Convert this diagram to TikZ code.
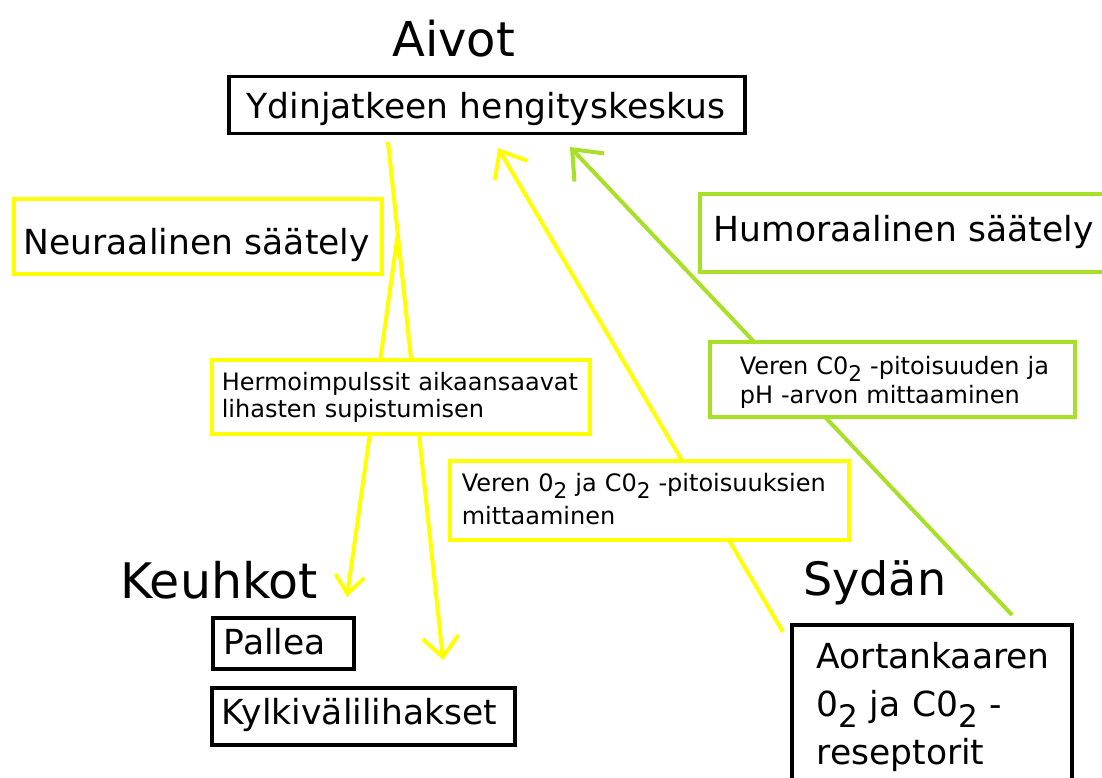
\documentclass[tikz,border=0pt]{standalone}
\usepackage{fontspec}
\setmainfont{DejaVu Sans}
\usetikzlibrary{arrows.meta,backgrounds}
\definecolor{ylw}{RGB}{255,255,0}
\definecolor{grn}{RGB}{168,224,40}
\newcommand{\subtwo}{\raisebox{-0.3em}{\scalebox{0.9}{2}}}
\newcommand{\bigfont}{\fontsize{34.5}{48}\selectfont}
\begin{document}
\begin{tikzpicture}[x=1pt,y=-1pt,
  panel/.style={rectangle, draw, fill=white, line width=3.5pt, inner ysep=0pt, anchor=north west, align=left},
  title/.style={anchor=base west, inner sep=0pt},
  yline/.style={draw=ylw, line width=4pt},
  gline/.style={draw=grn, line width=4pt},
]
\useasboundingbox (0,0) rectangle (1102,778);
\clip (0,0) rectangle (1102,778);

% titles
\node[title, font=\fontsize{48}{56}\selectfont] (aivot) at (392,57) {Aivot};
\node[title, font=\fontsize{49}{56}\selectfont] (keuhkot) at (120,598) {Keuhkot};
\node[title, font=\fontsize{46}{56}\selectfont] (sydan) at (803,595) {Sydän};

% boxes
\node[panel, draw=black, minimum width=516pt, minimum height=57pt, inner xsep=18pt,
  text width=480pt, text height=28.5pt, text depth=1.5pt, font=\bigfont] (ydin) at (227,75)
  {\mbox{Ydinjatkeen hengityskeskus}};
\node[panel, draw=ylw, minimum width=368pt, minimum height=75pt, inner xsep=10pt,
  text width=348pt, text height=38.5pt, text depth=1.5pt, font=\bigfont] (neur) at (12,197)
  {\mbox{Neuraalinen säätely}};
\node[panel, draw=grn, minimum width=412pt, minimum height=78pt, inner xsep=14pt,
  text width=384pt, text height=24pt, text depth=6pt, font=\bigfont] (humor) at (698,192)
  {\mbox{Humoraalinen säätely}};
\node[panel, draw=ylw, minimum width=378pt, minimum height=74pt, inner xsep=10pt,
  text width=358pt, text height=24pt, text depth=36pt, font=\fontsize{24}{27}\selectfont] (hermo) at (210,358)
  {\mbox{Hermoimpulssit aikaansaavat}\\\mbox{lihasten supistumisen}};
\node[panel, draw=ylw, minimum width=399pt, minimum height=79pt, inner xsep=12pt,
  text width=375pt, text height=21.5pt, text depth=38.5pt, font=\fontsize{24}{33}\selectfont] (veren1) at (448,459)
  {\mbox{Veren 0\subtwo{} ja C0\subtwo{} -pitoisuuksien}\\\mbox{mittaaminen}};
\node[panel, draw=grn, minimum width=365pt, minimum height=75pt, inner xsep=30pt,
  text width=305pt, text height=25.5pt, text depth=34.5pt, font=\fontsize{24}{29}\selectfont] (veren2) at (708,340)
  {\mbox{Veren C0\subtwo{} -pitoisuuden ja}\\\mbox{pH -arvon mittaaminen}};
\node[panel, draw=black, minimum width=141pt, minimum height=51pt, inner xsep=11pt,
  text width=119pt, text height=26.5pt, text depth=3.5pt, font=\bigfont] (pallea) at (211,616)
  {\mbox{Pallea}};
\node[panel, draw=black, minimum width=303pt, minimum height=57pt, inner xsep=10pt,
  text width=283pt, text height=23.5pt, text depth=6.5pt, font=\bigfont] (kylki) at (210,686)
  {\mbox{Kylkivälilihakset}};
\node[panel, draw=black, minimum width=280pt, minimum height=168pt, inner xsep=25pt,
  text width=230pt, text height=30pt, text depth=110pt, font=\bigfont] (aortan) at (790,623)
  {\mbox{Aortankaaren}\\\mbox{0\subtwo{} ja C0\subtwo{} -}\\\mbox{reseptorit}};

% connector end points
\coordinate (n1) at (388,142);
\coordinate (n2) at (443,660);
\coordinate (n3) at (398,233);
\coordinate (n4) at (347,597);
\coordinate (v1) at (783,632);
\coordinate (v2) at (498,148);
\coordinate (h1) at (1012,615);
\coordinate (h2) at (570,147);

\begin{pgfonlayer}{background}
\fill[white] (0,0) rectangle (1102,778);
\draw[yline, -{Straight Barb[length=20pt,width=36pt]}] (n1) -- (n2);
\draw[yline, -{Straight Barb[length=18pt,width=29pt]}] (n3) -- (n4);
\draw[yline, -{Straight Barb[length=23pt,width=38pt]}] (v1) -- (v2);
\draw[gline, -{Straight Barb[length=25pt,width=41pt]}] (h1) -- (h2);
\end{pgfonlayer}
\end{tikzpicture}
\end{document}
